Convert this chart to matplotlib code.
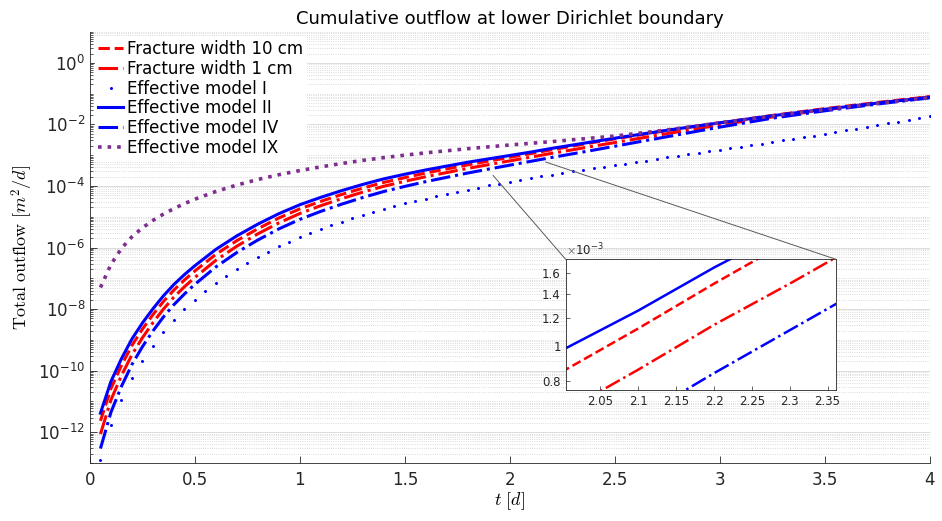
import numpy as np
import matplotlib
matplotlib.use("Agg")
import matplotlib.pyplot as plt
from matplotlib.ticker import FixedLocator, NullLocator, LogLocator, FuncFormatter, LogFormatterSciNotation
from matplotlib.patches import ConnectionPatch

plt.rcParams['mathtext.fontset'] = 'cm'
plt.rcParams['font.family'] = 'DejaVu Sans'

# time grid of the line series [d]
t_line = [0.05, 0.1, 0.15, 0.2, 0.25, 0.3, 0.35, 0.4, 0.45, 0.5, 0.6, 0.7, 0.8, 0.9, 1.0,
          1.1, 1.2, 1.3, 1.4, 1.5, 1.6, 1.8, 2.0, 2.1, 2.2, 2.3, 2.4, 2.5,
          2.75, 3.0, 3.25, 3.5, 3.75, 4.0]

# log10 of the cumulative outflow
log_frac_10cm = [-11.63, -10.58, -9.83, -9.18, -8.65, -8.18, -7.755, -7.38, -7.055, -6.76,
                 -6.22, -5.775, -5.39, -5.04, -4.745, -4.50, -4.275, -4.07, -3.885, -3.73,
                 -3.58, -3.315, -3.07, -2.95, -2.825, -2.705, -2.585, -2.47,
                 -2.20, -1.95, -1.71, -1.49, -1.29, -1.10]
log_frac_1cm = [-12.06, -10.95, -10.16, -9.48, -8.93, -8.44, -8.00, -7.61, -7.275, -6.97,
                -6.415, -5.955, -5.555, -5.20, -4.895, -4.64, -4.41, -4.20, -4.01, -3.85,
                -3.70, -3.43, -3.185, -3.065, -2.94, -2.825, -2.705, -2.59,
                -2.30, -2.02, -1.76, -1.53, -1.31, -1.11]
log_model2 = [-11.38, -10.35, -9.61, -8.97, -8.45, -7.99, -7.57, -7.20, -6.88, -6.59,
              -6.06, -5.62, -5.24, -4.90, -4.61, -4.37, -4.15, -3.95, -3.77, -3.62,
              -3.48, -3.23, -3.01, -2.90, -2.78, -2.67, -2.56, -2.45,
              -2.19, -1.95, -1.72, -1.51, -1.31, -1.12]
log_model4 = [-12.53, -11.35, -10.51, -9.80, -9.22, -8.71, -8.255, -7.855, -7.51, -7.195,
              -6.63, -6.16, -5.755, -5.395, -5.085, -4.825, -4.59, -4.375, -4.18, -4.015,
              -3.86, -3.58, -3.325, -3.20, -3.075, -2.955, -2.835, -2.71,
              -2.40, -2.09, -1.80, -1.56, -1.34, -1.14]
log_model9 = [-7.30, -6.55, -6.03, -5.65, -5.36, -5.12, -4.915, -4.735, -4.575, -4.43,
              -4.18, -3.97, -3.79, -3.635, -3.50, -3.38, -3.27, -3.17, -3.08, -3.00,
              -2.925, -2.79, -2.67, -2.615, -2.56, -2.50, -2.44, -2.38,
              -2.18, -1.95, -1.73, -1.52, -1.32, -1.13]

# model I is drawn as single dots, one per output step of 0.05 d
t_dots = np.round(np.arange(1, 81) * 0.05, 2)
log_model1 = [-12.90, -11.77, -10.95, -10.25, -9.68, -9.19, -8.74, -8.35, -8.01, -7.70,
              -7.42, -7.15, -6.91, -6.70, -6.50, -6.31, -6.13, -5.96, -5.81, -5.66,
              -5.52, -5.40, -5.28, -5.16, -5.05, -4.94, -4.84, -4.74, -4.655, -4.57,
              -4.49, -4.41, -4.335, -4.26, -4.19, -4.12, -4.053, -3.986, -3.922, -3.86,
              -3.80, -3.742, -3.686, -3.632, -3.579, -3.527, -3.476, -3.426, -3.376, -3.326,
              -3.276, -3.226, -3.176, -3.126, -3.076, -3.026, -2.976, -2.926, -2.876, -2.826,
              -2.776, -2.726, -2.676, -2.625, -2.574, -2.522, -2.470, -2.417, -2.363, -2.309,
              -2.254, -2.198, -2.141, -2.084, -2.026, -1.968, -1.909, -1.849, -1.789, -1.728]

labels = ["Fracture width 10 cm", "Fracture width 1 cm", "Effective model I",
          "Effective model II", "Effective model IV", "Effective model IX"]

x_ticks = [0, 0.5, 1, 1.5, 2, 2.5, 3, 3.5, 4]
y_ticks = [1e-12, 1e-10, 1e-8, 1e-6, 1e-4, 1e-2, 1e0]
inset_xticks = [2.05, 2.1, 2.15, 2.2, 2.25, 2.3, 2.35]
inset_yticks = [0.8e-3, 1.0e-3, 1.2e-3, 1.4e-3, 1.6e-3]

# corners of the zoomed region that the connector lines start from
zoom_corner_a = (1.92, 2.2e-4)
zoom_corner_b = (2.17, 6.0e-4)

RED = (1, 0, 0)
BLUE = (0, 0, 1)
PURPLE = (0.494, 0.184, 0.556)
AXC = (0.15, 0.15, 0.15)


def draw_series(ax, lw=2.2):
    t = np.array(t_line)
    ax.plot(t, 10 ** np.array(log_frac_10cm), '--', color=RED, lw=lw, label=labels[0])
    ax.plot(t, 10 ** np.array(log_frac_1cm), '-.', color=RED, lw=lw, label=labels[1])
    ax.plot(t_dots, 10 ** np.array(log_model1), '.', color=BLUE, ms=2.3, ls='none', label=labels[2])
    ax.plot(t, 10 ** np.array(log_model2), '-', color=BLUE, lw=lw, label=labels[3])
    ax.plot(t, 10 ** np.array(log_model4), '-.', color=BLUE, lw=lw, label=labels[4])
    ax.plot(t, 10 ** np.array(log_model9), ':', color=PURPLE, lw=2.6, label=labels[5])


fig = plt.figure(figsize=(9.42, 5.21), dpi=100)
ax = fig.add_axes([0.0955, 0.1113, 0.8915, 0.8273])
draw_series(ax)

ax.set_yscale('log')
ax.set_xlim(0, 4)
ax.set_ylim(1e-13, 1e1)
ax.set_xticks(x_ticks)
ax.xaxis.set_major_formatter(FuncFormatter(lambda v, p: f"{v:g}"))
ax.yaxis.set_major_locator(FixedLocator(y_ticks))
ax.yaxis.set_major_formatter(LogFormatterSciNotation())
ax.yaxis.set_minor_locator(LogLocator(base=10, subs=np.arange(1, 10), numticks=100))
ax.yaxis.set_minor_formatter(FuncFormatter(lambda v, p: ""))

ax.grid(True, axis='y', which='major', color='#dcdcdc', lw=0.7)
ax.grid(True, axis='y', which='minor', color='#cfcfcf', lw=0.6, ls=':')
ax.set_axisbelow(True)

for s in ['top', 'right']:
    ax.spines[s].set_visible(False)
for s in ['left', 'bottom']:
    ax.spines[s].set_color(AXC)
    ax.spines[s].set_linewidth(0.6)
ax.tick_params(which='both', direction='in', colors=AXC, labelsize=12, top=False, right=False)
ax.tick_params(which='major', length=5, width=0.6)
ax.tick_params(which='minor', length=2.5, width=0.5)
ax.tick_params(axis='x', which='minor', bottom=False)
ax.tick_params(axis='x', pad=6)

ax.set_title("Cumulative outflow at lower Dirichlet boundary", fontsize=13, pad=6)
ax.set_xlabel(r"$t\ [d]$", fontsize=13, labelpad=1)
ax.set_ylabel(r"$\mathrm{Total\ outflow}\ [m^2/d]$", fontsize=13, labelpad=2)

leg = ax.legend(loc='upper left', fontsize=12, frameon=True, fancybox=False,
                borderaxespad=0.3, borderpad=0.2, labelspacing=0.1,
                handlelength=1.5, handletextpad=0.2)
leg.get_frame().set_facecolor('white')
leg.get_frame().set_edgecolor('white')
leg.get_frame().set_alpha(1)

# inset
ins = fig.add_axes([0.6005, 0.2514, 0.2869, 0.2509])
draw_series(ins, lw=1.8)
ins.set_yscale('log')
ins.set_xlim(2.004, 2.361)
ins.set_ylim(0.755e-3, 1.75e-3)
ins.xaxis.set_major_locator(FixedLocator(inset_xticks))
ins.xaxis.set_major_formatter(FuncFormatter(lambda v, p: f"{v:g}"))
ins.yaxis.set_major_locator(FixedLocator(inset_yticks))
ins.yaxis.set_minor_locator(NullLocator())
ins.yaxis.set_major_formatter(FuncFormatter(lambda v, p: f"{v * 1e3:g}"))
ins.tick_params(which='both', direction='in', colors=AXC, labelsize=8.5, length=3, width=0.5)
for s in ins.spines.values():
    s.set_color(AXC)
    s.set_linewidth(0.6)
ins.text(0.0, 1.01, r"$\times\mathdefault{10^{-3}}$", transform=ins.transAxes,
         fontsize=8.5, color=AXC, ha='left', va='bottom')

for corner, xy_ins in [(zoom_corner_a, (0, 1)), (zoom_corner_b, (1, 1))]:
    con = ConnectionPatch(xyA=corner, coordsA=ax.transData, xyB=xy_ins, coordsB=ins.transAxes,
                          color=(0.35, 0.35, 0.35), lw=0.7)
    fig.add_artist(con)

fig.savefig("out.png", dpi=100)
